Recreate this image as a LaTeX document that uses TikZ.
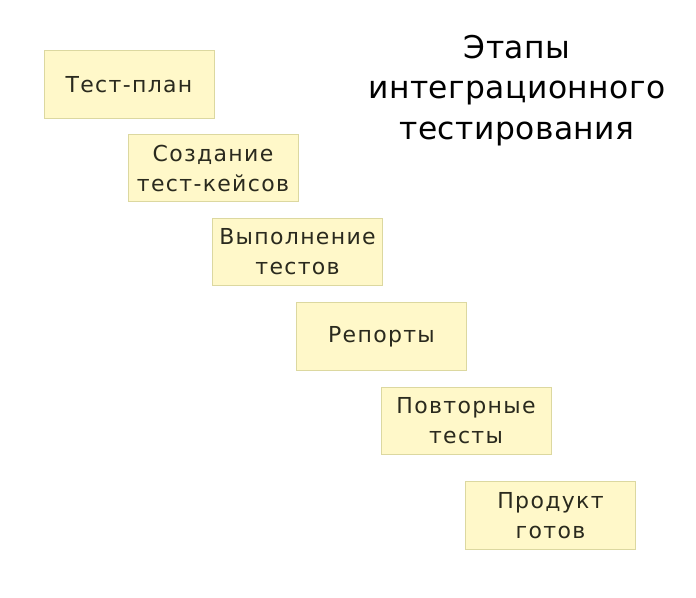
\documentclass[tikz,border=0pt]{standalone}
\usepackage{fontspec}
\setmainfont{DejaVu Sans}
\newfontfamily\stagefont[LetterSpace=6]{DejaVu Sans}
\newfontfamily\titlefont[LetterSpace=1.5]{DejaVu Sans}
\definecolor{boxfill}{HTML}{FFF8C9}
\definecolor{boxline}{HTML}{DCD8A0}
\definecolor{boxtext}{HTML}{2A2A1E}
\begin{document}
\begin{tikzpicture}[x=0.75pt,y=-0.75pt,
  stage/.style={draw=boxline, line width=0.6pt, fill=boxfill, minimum width=127.5pt, minimum height=50.5pt,
    inner sep=0pt, align=center, text=boxtext, font=\stagefont\fontsize{16.5pt}{22.5pt}\selectfont},
  heading/.style={align=center, text=black, font=\titlefont\fontsize{23.5pt}{30.5pt}\selectfont}]
\useasboundingbox (0,0) rectangle (696,598);
\node[stage] (s1) at (129,84.5) {Тест-план};
\node[stage] (s2) at (213,168) {Создание\\тест-кейсов};
\node[stage] (s3) at (297.5,252) {Выполнение\\тестов};
\node[stage] (s4) at (381.5,336.5) {Репорты};
\node[stage] (s5) at (466,421) {Повторные\\тесты};
\node[stage] (s6) at (550.5,515.5) {Продукт\\готов};
\node[heading] (title) at (517,90.5) {Этапы\\интеграционного\\тестирования};
\end{tikzpicture}
\end{document}
